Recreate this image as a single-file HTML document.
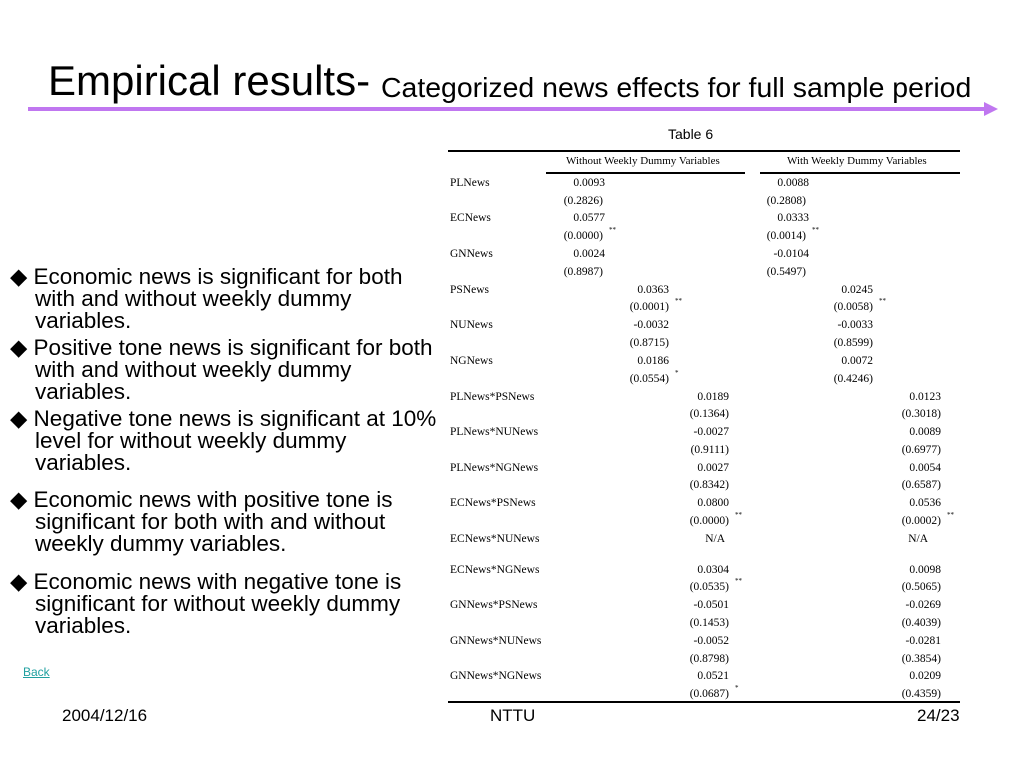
<!DOCTYPE html>
<html><head><meta charset="utf-8"><style>
body{margin:0;width:1024px;height:768px;background:#fff;position:relative;overflow:hidden;font-family:"Liberation Sans",Arial,sans-serif;color:#000}
.a{position:absolute;white-space:nowrap}
.t{position:absolute;font-family:"Liberation Serif",serif;font-size:11.5px;line-height:14px;white-space:nowrap}
.r{text-align:right}
.s{position:absolute;font-family:"Liberation Serif",serif;font-size:7px;white-space:nowrap}
.b{position:absolute;font-size:22.5px;line-height:22px;white-space:nowrap;left:10px;transform:scaleX(1.0);transform-origin:left}
.ln{position:absolute;background:#000}
</style></head><body>
<div class="a" style="left:48px;top:57px;font-size:42px;line-height:48px;transform:scaleX(1.0);transform-origin:left">Empirical results-</div>
<div class="a" style="left:381px;top:72px;font-size:28px;line-height:32px;transform:scaleX(1.015);transform-origin:left">Categorized news effects for full sample period</div>
<div class="a" style="left:28px;top:107px;width:962px;height:4px;background:#c077f0"></div>
<div class="a" style="left:984px;top:102px;width:0;height:0;border-left:14px solid #c077f0;border-top:7px solid transparent;border-bottom:7px solid transparent"></div>
<div class="a" style="left:668px;top:125px;font-size:14px;line-height:18px">Table 6</div>

<div class="ln" style="left:448px;top:150px;width:512px;height:1.5px"></div>
<div class="ln" style="left:546px;top:172px;width:199px;height:1.5px"></div>
<div class="ln" style="left:760px;top:172px;width:200px;height:1.5px"></div>
<div class="ln" style="left:448px;top:701px;width:512px;height:2px"></div>
<div class="t" style="left:566px;top:154px;font-size:11px">Without Weekly Dummy Variables</div>
<div class="t" style="left:787px;top:154px;font-size:11px">With Weekly Dummy Variables</div>

<div id="tb"></div>

<div class="b" style="top:266px">◆ Economic news is significant for both<br>&nbsp;&nbsp;&nbsp; with and without weekly dummy<br>&nbsp;&nbsp;&nbsp; variables.</div>
<div class="b" style="top:337px">◆ Positive tone news is significant for both<br>&nbsp;&nbsp;&nbsp; with and without weekly dummy<br>&nbsp;&nbsp;&nbsp; variables.</div>
<div class="b" style="top:408px">◆ Negative tone news is significant at 10%<br>&nbsp;&nbsp;&nbsp; level for without weekly dummy<br>&nbsp;&nbsp;&nbsp; variables.</div>
<div class="b" style="top:489px">◆ Economic news with positive tone is<br>&nbsp;&nbsp;&nbsp; significant for both with and without<br>&nbsp;&nbsp;&nbsp; weekly dummy variables.</div>
<div class="b" style="top:571px">◆ Economic news with negative tone is<br>&nbsp;&nbsp;&nbsp; significant for without weekly dummy<br>&nbsp;&nbsp;&nbsp; variables.</div>

<div class="a" style="left:23px;top:665px;font-size:12px;color:#20a0a0;text-decoration:underline">Back</div>
<div class="a" style="left:62px;top:706px;font-size:17px">2004/12/16</div>
<div class="a" style="left:490px;top:706px;font-size:17px">NTTU</div>
<div class="a" style="left:917px;top:706px;font-size:17px">24/23</div>

<script>
var rows=[
["PLNews",182,605,809,"0.0093","0.0088"],[null,200,603,806,"(0.2826)","(0.2808)"],
["ECNews",217,605,809,"0.0577","0.0333"],[null,235,603,806,"(0.0000)","(0.0014)","**","**"],
["GNNews",253,605,809,"0.0024","-0.0104"],[null,271,603,806,"(0.8987)","(0.5497)"],
["PSNews",289,669,873,"0.0363","0.0245"],[null,306,669,873,"(0.0001)","(0.0058)","**","**"],
["NUNews",324,669,873,"-0.0032","-0.0033"],[null,342,669,873,"(0.8715)","(0.8599)"],
["NGNews",360,669,873,"0.0186","0.0072"],[null,378,669,873,"(0.0554)","(0.4246)","*",""],
["PLNews*PSNews",396,729,941,"0.0189","0.0123"],[null,413,729,941,"(0.1364)","(0.3018)"],
["PLNews*NUNews",431,729,941,"-0.0027","0.0089"],[null,449,729,941,"(0.9111)","(0.6977)"],
["PLNews*NGNews",467,729,941,"0.0027","0.0054"],[null,484,729,941,"(0.8342)","(0.6587)"],
["ECNews*PSNews",502,729,941,"0.0800","0.0536"],[null,520,729,941,"(0.0000)","(0.0002)","**","**"],
["ECNews*NUNews",538,725,928,"N/A","N/A"],
["ECNews*NGNews",569,729,941,"0.0304","0.0098"],[null,586,729,941,"(0.0535)","(0.5065)","**",""],
["GNNews*PSNews",604,729,941,"-0.0501","-0.0269"],[null,622,729,941,"(0.1453)","(0.4039)"],
["GNNews*NUNews",640,729,941,"-0.0052","-0.0281"],[null,658,729,941,"(0.8798)","(0.3854)"],
["GNNews*NGNews",675,729,941,"0.0521","0.0209"],[null,693,729,941,"(0.0687)","(0.4359)","*",""]];
var h="";
rows.forEach(function(r){var y=r[1]-6;
if(r[0])h+='<div class="t" style="left:450px;top:'+y+'px">'+r[0]+'</div>';
h+='<div class="t r" style="left:'+(r[2]-100)+'px;width:100px;top:'+y+'px">'+r[4]+'</div>';
h+='<div class="t r" style="left:'+(r[3]-100)+'px;width:100px;top:'+y+'px">'+r[5]+'</div>';
if(r[6])h+='<div class="s" style="left:'+(r[2]+6)+'px;top:'+(y-3)+'px">'+r[6]+'</div>';
if(r[7])h+='<div class="s" style="left:'+(r[3]+6)+'px;top:'+(y-3)+'px">'+r[7]+'</div>';
});
document.getElementById("tb").innerHTML=h;
</script>
</body></html>
